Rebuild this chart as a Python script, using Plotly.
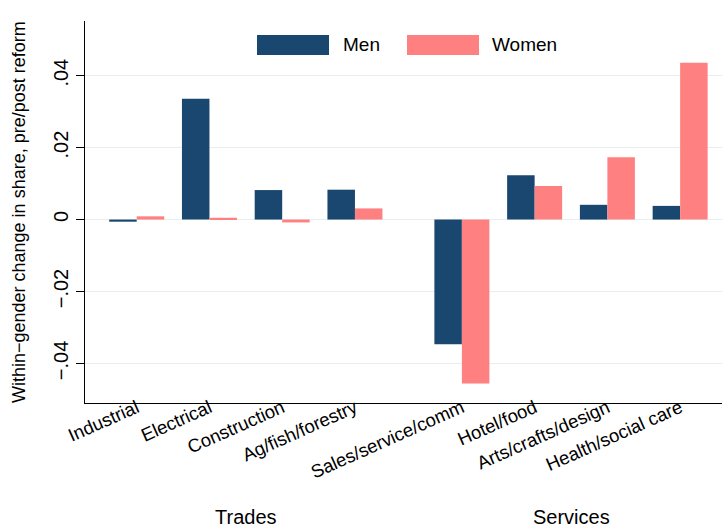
import plotly.graph_objects as go

# Occupation categories, grouped into trades and services
categories = ["Industrial", "Electrical", "Construction", "Ag/fish/forestry",
              "Sales/service/comm", "Hotel/food", "Arts/crafts/design", "Health/social care"]
groups = ["Trades", "Trades", "Trades", "Trades",
          "Services", "Services", "Services", "Services"]

# Within-gender change in occupational share, pre/post reform
men = [-0.0006, 0.0336, 0.0082, 0.0083, -0.0347, 0.0123, 0.0041, 0.0038]
women = [0.0009, 0.0005, -0.0008, 0.0031, -0.0456, 0.0093, 0.0173, 0.0436]

y_ticks = [-0.04, -0.02, 0, 0.02, 0.04]
y_ticktext = ["\u2212.04", "\u2212.02", "0", ".02", ".04"]

FONT = "Liberation Sans, Arial, Helvetica, sans-serif"
NAVY = "#1A476F"
SALMON = "#FF8080"
GRID = "#E6EEEF"

# Category positions: one unit per category, extra space between groups
GROUP_GAP = 0.47
group_order = list(dict.fromkeys(groups))
xpos = [i + GROUP_GAP * group_order.index(g) for i, g in enumerate(groups)]

W, H = 722, 532
ML, MR, MT, MB = 85, 0, 21, 129
pw, ph = W - ML - MR, H - MT - MB


def px_x(p):
    return (p - ML) / pw


def px_y(p):
    return (H - MB - p) / ph


fig = go.Figure()
fig.add_trace(go.Bar(x=xpos, y=men, name="Men", marker=dict(color=NAVY, line_width=0)))
fig.add_trace(go.Bar(x=xpos, y=women, name="Women", marker=dict(color=SALMON, line_width=0)))

# Group labels centred under each group of categories
annotations = []
for g in group_order:
    xs = [x for x, gg in zip(xpos, groups) if gg == g]
    annotations.append(dict(x=(min(xs) + max(xs)) / 2, xref="x", y=px_y(517), yref="paper",
                            text=g, showarrow=False, xanchor="center", yanchor="middle",
                            font=dict(family=FONT, size=20, color="#000")))

# Y-axis title
annotations.append(dict(x=px_x(19), xref="paper", y=px_y(212), yref="paper",
                        text="Within\u2212gender change in share, pre/post reform",
                        textangle=-90, showarrow=False, xanchor="center", yanchor="middle",
                        font=dict(family=FONT, size=18, color="#000")))

# Legend drawn as wide swatches with labels, centred above the bars
shapes = []
legend_items = [("Men", NAVY, 257, 341), ("Women", SALMON, 407, 490)]
for name, col, sx, tx in legend_items:
    shapes.append(dict(type="rect", xref="paper", yref="paper",
                       x0=px_x(sx), x1=px_x(sx + 72), y0=px_y(55), y1=px_y(35),
                       fillcolor=col, line_width=0, layer="above"))
    annotations.append(dict(x=px_x(tx), xref="paper", y=px_y(45), yref="paper",
                            text=name, showarrow=False, xanchor="left", yanchor="middle",
                            font=dict(family=FONT, size=19, color="#000")))

fig.update_layout(
    width=W, height=H,
    margin=dict(l=ML, r=MR, t=MT, b=MB),
    paper_bgcolor="white", plot_bgcolor="white",
    barmode="group", bargap=0.244, bargroupgap=0,
    showlegend=False,
    font=dict(family=FONT, color="#000"),
    annotations=annotations, shapes=shapes,
)

fig.update_xaxes(
    range=[(ML - 136.7) / 72.75, (W - 136.7) / 72.75],
    tickvals=xpos, ticktext=categories, tickangle=-24,
    tickfont=dict(family=FONT, size=18.5, color="#000"),
    ticklabelstandoff=-14,
    ticks="", showgrid=False, zeroline=False,
    showline=True, linecolor="#000", linewidth=1.3,
)

fig.update_yaxes(
    range=[-0.0510, 0.0552],
    tickvals=y_ticks, ticktext=y_ticktext, tickangle=-90,
    tickfont=dict(family=FONT, size=20, color="#000"),
    ticks="outside", ticklen=8, tickcolor="#000", tickwidth=1,
    showgrid=True, gridcolor=GRID, gridwidth=1.3, zeroline=False,
    showline=True, linecolor="#000", linewidth=1.3,
)

fig.write_html("out.html")
